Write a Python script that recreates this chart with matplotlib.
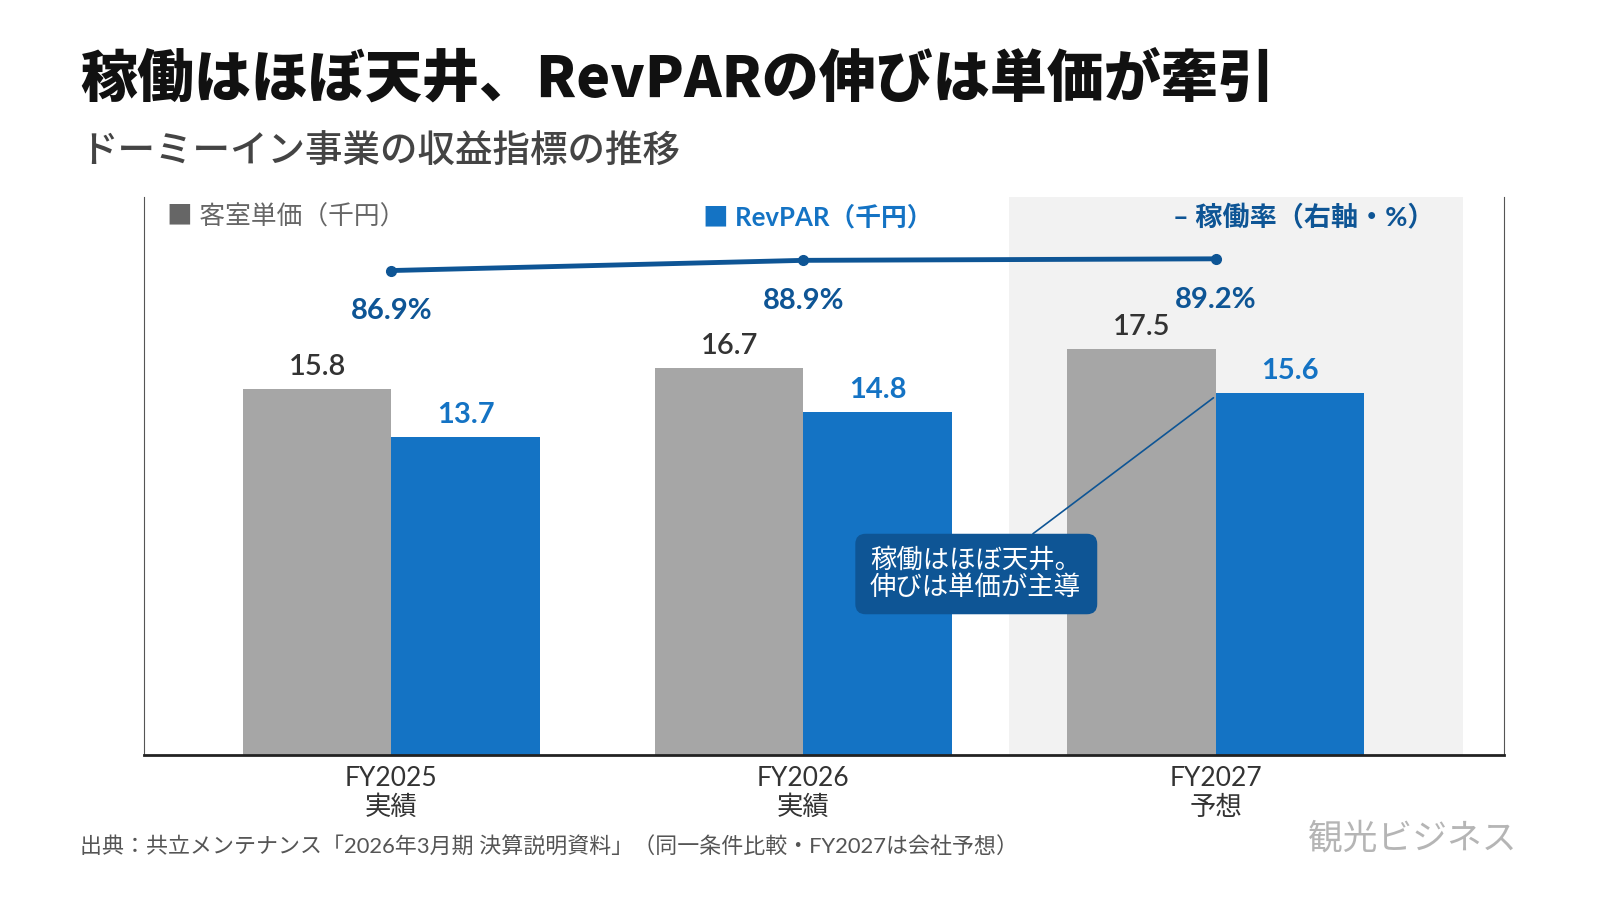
import numpy as np
import matplotlib.pyplot as plt
from matplotlib.patches import FancyBboxPatch

plt.rcParams['font.family'] = ['Lato', 'Noto Sans CJK JP', 'DejaVu Sans']

# data
years = ['FY2025\n実績', 'FY2026\n実績', 'FY2027\n予想']
adr = [15.8, 16.7, 17.5]        # 客室単価（千円）
revpar = [13.7, 14.8, 15.6]     # RevPAR（千円）
occ = [86.9, 88.9, 89.2]        # 稼働率（%）

GRAY = '#a6a6a6'
BLUE = '#1473c4'
NAVY = '#0e5595'

fig = plt.figure(figsize=(16, 9), dpi=100)
ax = fig.add_axes([0.09, 0.161, 0.85, 0.62])
x = np.arange(len(years))
w = 0.36

# forecast shading
ax.axvspan(1.5, 2.6, color='#f2f2f2', zorder=0, lw=0)

ax.bar(x - w/2, adr, w, color=GRAY, zorder=2)
ax.bar(x + w/2, revpar, w, color=BLUE, zorder=2)

for i in range(len(x)):
    ax.text(x[i] - w/2, adr[i] + 0.38, f'{adr[i]:.1f}', ha='center', va='bottom',
            fontsize=21, color='#333333', fontweight='semibold')
    ax.text(x[i] + w/2, revpar[i] + 0.38, f'{revpar[i]:.1f}', ha='center', va='bottom',
            fontsize=21, color=BLUE, fontweight='bold')

ax.set_xlim(-0.6, 2.7)
ax.set_ylim(0, 24.05)
ax.set_xticks(x)
ax.set_xticklabels(years, fontsize=19, color='#333333', linespacing=1.2)
ax.tick_params(axis='x', length=0, pad=8)
ax.set_yticks([])
ax.spines['top'].set_visible(False)
ax.spines['left'].set_color('#555555')
ax.spines['left'].set_linewidth(0.8)
ax.spines['right'].set_color('#555555')
ax.spines['right'].set_linewidth(0.8)
ax.spines['bottom'].set_color('#222222')
ax.spines['bottom'].set_linewidth(2)

# occupancy line on right axis
ax2 = ax.twinx()
ax2.plot(x, occ, color=NAVY, lw=3.5, marker='o', ms=7, zorder=3)
ax2.set_ylim(-8.1, 101.3)
ax2.set_yticks([])
for s in ax2.spines.values():
    s.set_visible(False)
for i in range(len(x)):
    ax2.text(x[i], occ[i] - 8.0, f'{occ[i]:.1f}%', ha='center', va='center',
             fontsize=21, color=NAVY, fontweight='bold')

# legend row inside axes
ax.text(-0.545, 23.2, '■ 客室単価（千円）', fontsize=18.5, color='#666666', va='center', ha='left')
ax.text(0.757, 23.2, '■ RevPAR（千円）', fontsize=18.5, color=BLUE, va='center', ha='left',
        fontweight='bold')
ax.text(1.897, 23.2, '– 稼働率（右軸・%）', fontsize=19.5, color=NAVY, va='center', ha='left',
        fontweight='bold')

# callout
ax.annotate('', xy=(1.995, 15.4), xytext=(1.557, 9.54),
            arrowprops=dict(arrowstyle='-', color=NAVY, lw=1.2, shrinkA=0, shrinkB=0), zorder=4)
box = FancyBboxPatch((1.126, 6.07), 0.587, 3.47, boxstyle='round,pad=0,rounding_size=0.025',
                     transform=ax.transData, fc=NAVY, ec='none', zorder=5,
                     mutation_aspect=17.6)
ax.add_patch(box)
ax.text(1.161, 7.8, '稼働はほぼ天井。\n伸びは単価が主導', fontsize=19, color='white',
        va='center', ha='left', linespacing=1.1, zorder=6)

# titles
fig.text(0.05, 0.911, '稼働はほぼ天井、RevPARの伸びは単価が牽引', fontsize=41,
         fontweight='black', family=['Noto Sans CJK JP'], color='#111111', va='center')
fig.text(0.05, 0.831, 'ドーミーイン事業の収益指標の推移', fontsize=27, fontweight='medium',
         family=['Noto Sans CJK JP'], color='#444444', va='center')

# footer
fig.text(0.05, 0.059, '出典：共立メンテナンス「2026年3月期 決算説明資料」（同一条件比較・FY2027は会社予想）',
         fontsize=15.8, color='#555555', va='center')
fig.text(0.948, 0.068, '観光ビジネス', fontsize=25, color='#b5b5b5', va='center', ha='right',
         family=['Noto Sans CJK JP'])

fig.savefig('out.png', dpi=100)
